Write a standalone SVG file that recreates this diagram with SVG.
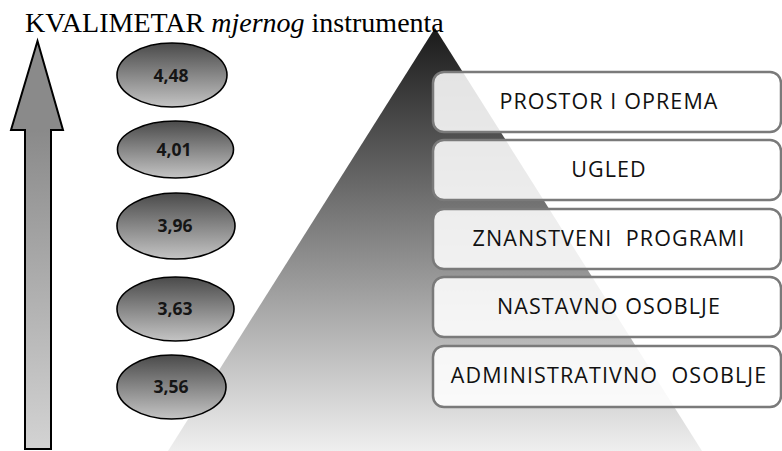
<svg xmlns="http://www.w3.org/2000/svg" width="782" height="451" viewBox="0 0 782 451">
  <defs>
    <linearGradient id="pyrFill" gradientUnits="userSpaceOnUse" x1="0" y1="28" x2="0" y2="451">
      <stop offset="0" stop-color="#1a1a1a"/>
      <stop offset="1" stop-color="#efefef"/>
    </linearGradient>
    <linearGradient id="arrowFill" gradientUnits="userSpaceOnUse" x1="0" y1="130" x2="0" y2="449">
      <stop offset="0" stop-color="#8a8a8a"/>
      <stop offset="1" stop-color="#d3d3d3"/>
    </linearGradient>
    <linearGradient id="ovalFill" x1="0" y1="0" x2="0" y2="1">
      <stop offset="0" stop-color="#4a4a4a"/>
      <stop offset="1" stop-color="#c4c4c4"/>
    </linearGradient>
  </defs>
  <style>
    .title { font-family: "Liberation Serif", "Times New Roman", serif; font-size: 28px; fill: #000; }
    .oval { fill: url(#ovalFill); stroke: #000; stroke-width: 1.6; }
    .oval-text { font-family: "Open Sans", "Liberation Sans", sans-serif; font-weight: bold; font-size: 17.5px; fill: #151515; text-anchor: middle; }
    .box { fill: #ffffff; fill-opacity: 0.87; stroke: #7a7a7a; stroke-width: 2.5; }
    .box-text { font-family: "Open Sans", "Liberation Sans", sans-serif; font-size: 21.5px; letter-spacing: 1.1px; fill: #111; text-anchor: middle; white-space: pre; }
  </style>

  <rect width="782" height="451" fill="#ffffff"/>

  <!-- pyramid backdrop -->
  <polygon id="pyramid" points="435,28 702,451 168,451" fill="url(#pyrFill)"/>

  <!-- title -->
  <text class="title" x="25" y="32">KVALIMETAR <tspan font-style="italic">mjernog</tspan> instrumenta</text>

  <!-- rising arrow -->
  <g id="arrow">
    <path d="M37.5,41 L63,130 L51,130 L51,449 L25,449 L25,130 L11,130 Z" fill="url(#arrowFill)" stroke="#000" stroke-width="2" stroke-linejoin="miter"/>
  </g>

  <!-- score ovals -->
  <g id="score-448">
    <ellipse class="oval" cx="172" cy="75" rx="55" ry="32"/>
    <text class="oval-text" x="171" y="82">4,48</text>
  </g>
  <g id="score-401">
    <ellipse class="oval" cx="175.5" cy="149.5" rx="58" ry="28.5"/>
    <text class="oval-text" x="174" y="156">4,01</text>
  </g>
  <g id="score-396">
    <ellipse class="oval" cx="176" cy="226" rx="59" ry="33"/>
    <text class="oval-text" x="175" y="232">3,96</text>
  </g>
  <g id="score-363">
    <ellipse class="oval" cx="175.5" cy="309" rx="58.5" ry="32"/>
    <text class="oval-text" x="175" y="315">3,63</text>
  </g>
  <g id="score-356">
    <ellipse class="oval" cx="171.5" cy="387" rx="54.5" ry="32"/>
    <text class="oval-text" x="171" y="393">3,56</text>
  </g>

  <!-- criteria boxes -->
  <g id="prostor">
    <rect class="box" x="433" y="72" width="348" height="60" rx="11"/>
    <text class="box-text" x="609" y="109">PROSTOR I OPREMA</text>
  </g>
  <g id="ugled">
    <rect class="box" x="433" y="140" width="348" height="60" rx="11"/>
    <text class="box-text" x="609" y="177">UGLED</text>
  </g>
  <g id="znanstveni">
    <rect class="box" x="433" y="209" width="348" height="60" rx="11"/>
    <text class="box-text" x="609" y="246" xml:space="preserve">ZNANSTVENI  PROGRAMI</text>
  </g>
  <g id="nastavno">
    <rect class="box" x="433" y="277" width="348" height="60" rx="11"/>
    <text class="box-text" x="609" y="314">NASTAVNO OSOBLJE</text>
  </g>
  <g id="administrativno">
    <rect class="box" x="433" y="346" width="348" height="61" rx="11"/>
    <text class="box-text" x="609" y="383" xml:space="preserve">ADMINISTRATIVNO  OSOBLJE</text>
  </g>
</svg>
